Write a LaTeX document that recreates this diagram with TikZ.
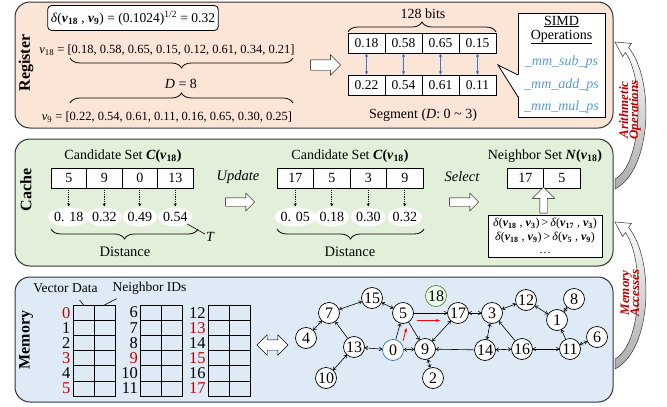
\documentclass[tikz,border=0pt]{standalone}
\usepackage{fontspec}
\setmainfont{Liberation Serif}
\usetikzlibrary{shapes.arrows,shapes.geometric,decorations.pathreplacing,arrows.meta}

\definecolor{regfill}{HTML}{FBE5D6}
\definecolor{cachefill}{HTML}{E2F0D9}
\definecolor{memfill}{HTML}{DEEBF7}
\definecolor{darkred}{HTML}{C00000}
\definecolor{simdblue}{HTML}{5B9BD5}
\definecolor{pairblue}{HTML}{4472C4}
\definecolor{startblue}{HTML}{2E75B6}
\definecolor{querygreen}{HTML}{548235}

\newcommand{\sz}[1]{\fontsize{#1}{#1}\selectfont}
\newcommand{\bv}[1]{\textbf{\textit{v}}\textsubscript{\textbf{#1}}}

\begin{document}
\begin{tikzpicture}[x=1pt,y=-1pt,
    panel/.style={draw=black!80, line width=1pt, rounded corners=15pt},
    tag/.style={rotate=90, font=\sz{16}\bfseries},
    rcell/.style={draw, fill=white, minimum width=37pt, minimum height=20pt, inner sep=0pt, font=\sz{13.5}},
    ccell/.style={draw, fill=white, minimum width=35.5pt, minimum height=20pt, inner sep=0pt, font=\sz{14}},
    dist/.style={ellipse, fill=white, minimum width=34pt, minimum height=19pt, inner sep=0pt, font=\sz{14}},
    hollow/.style={single arrow, draw, fill=white, inner sep=5pt, single arrow head extend=5pt, minimum height=30pt},
    curly/.style={decorate, decoration={brace, amplitude=10pt}, line width=0.8pt},
    dots/.style={densely dotted, line width=0.8pt, -{Stealth[length=3pt,width=3pt]}, shorten <=2pt, shorten >=1pt},
    pair/.style={{Stealth[length=4pt,width=3.5pt]}-{Stealth[length=4pt,width=3.5pt]}, pairblue, line width=0.9pt},
    op/.style={font=\sz{14}\itshape, text=simdblue},
    memid/.style={anchor=east, inner sep=0.5pt, font=\sz{16.5}},
    vert/.style={circle, draw, fill=white, minimum size=21pt, inner sep=0pt, line width=0.7pt, font=\sz{16}},
    link/.style={-{To[length=3pt,width=4pt]}, line width=0.6pt},
    blink/.style={{To[length=3pt,width=4pt]}-{To[length=3pt,width=4pt]}, line width=0.6pt},
    walk/.style={-{Stealth[length=4pt,width=3pt]}, red, line width=0.8pt},
    bendband/.style={top color=white, bottom color=gray!65, draw=black!80, line width=0.5pt},
    flow/.style={rotate=90, align=center, text=darkred, font=\sz{13}\bfseries\itshape}]
    \useasboundingbox (0,0) rectangle (667,407);

    % three levels
    \draw[panel, fill=regfill] (15,2) rectangle (613,128);
    \draw[panel, fill=cachefill] (15,139) rectangle (613,266);
    \draw[panel, fill=memfill] (15,277) rectangle (613,402);
    \node[tag] (lreg) at (26,63) {Register};
    \node[tag] (lcache) at (26,190) {Cache};
    \node[tag] (lmem) at (26,340) {Memory};

    % register: distance of two vectors
    \node[draw, fill=white, rounded corners=4pt, line width=0.8pt, minimum width=163pt, minimum height=25pt, font=\sz{13.5}] (delta) at (133,18) {\textit{δ}(\bv{18} , \bv{9}) = (0.1024)\textsuperscript{1/2} = 0.32};
    \node[font=\sz{12.5}] (v18) at (167,50) {\textit{v}\textsubscript{18} = [0.18, 0.58, 0.65, 0.15, 0.12, 0.61, 0.34, 0.21]};
    \draw[curly] (293,58) -- (70,58);
    \node[font=\sz{14}] (dim) at (181,84) {\textit{D} = 8};
    \draw[curly] (70,103) -- (293,103);
    \node[font=\sz{12.5}] (v9) at (167,117) {\textit{v}\textsubscript{9} = [0.22, 0.54, 0.61, 0.11, 0.16, 0.65, 0.30, 0.25]};
    \node[hollow] (toseg) at (323,65) {};

    \node[font=\sz{14}] (bits) at (423,14) {128 bits};
    \draw[curly] (348,32) -- (496,32);
    \node[rcell] (a1) at (366.5,43) {0.18};
    \node[rcell] (a2) at (403.5,43) {0.58};
    \node[rcell] (a3) at (440.5,43) {0.65};
    \node[rcell] (a4) at (477.5,43) {0.15};
    \node[rcell] (b1) at (366.5,85) {0.22};
    \node[rcell] (b2) at (403.5,85) {0.54};
    \node[rcell] (b3) at (440.5,85) {0.61};
    \node[rcell] (b4) at (477.5,85) {0.11};
    \draw[pair] (a1) -- (b1);
    \draw[pair] (a2) -- (b2);
    \draw[pair] (a3) -- (b3);
    \draw[pair] (a4) -- (b4);
    \node[font=\sz{14}] (seg) at (423,115) {Segment (\textit{D}: 0 \textasciitilde{} 3)};

    \node[draw, fill=white, line width=0.8pt, minimum width=87pt, minimum height=104pt] (simd) at (561.5,65) {};
    \fill[white] (498,65) -- (519,75) -- (519,97) -- cycle;
    \draw[line width=0.8pt] (518,75) -- (498,65) -- (518,97);
    \node[align=center, font=\sz{14}] (simdhead) at (561.5,30) {\underline{SIMD}\\\underline{Operations}};
    \node[op] (sub) at (561.5,62) {\_mm\_sub\_ps};
    \node[op] (add) at (561.5,85) {\_mm\_add\_ps};
    \node[op] (mul) at (561.5,107) {\_mm\_mul\_ps};

    % cache: candidate sets
    \node[font=\sz{14}] (cand1) at (123,156) {Candidate Set \textbf{\textit{C}(}\bv{18}\textbf{)}};
    \node[ccell] (c1) at (68.75,178) {5};
    \node[ccell] (c2) at (104.25,178) {9};
    \node[ccell] (c3) at (139.75,178) {0};
    \node[ccell] (c4) at (175.25,178) {13};
    \node[dist] (e1) at (68.75,217) {0. 18};
    \node[dist] (e2) at (104.25,217) {0.32};
    \node[dist] (e3) at (139.75,217) {0.49};
    \node[dist] (e4) at (175.25,217) {0.54};
    \draw[dots] (c1) -- (e1);
    \draw[dots] (c2) -- (e2);
    \draw[dots] (c3) -- (e3);
    \draw[dots] (c4) -- (e4);
    \draw[curly] (198,229) -- (51,229);
    \node[font=\sz{14.5}] (dist1) at (125,252) {Distance};
    \node[font=\sz{14}\itshape, inner sep=1pt] (thr) at (210,237) {T};
    \draw[line width=0.6pt] (e4) -- (thr);

    \node[font=\sz{14.5}\itshape] (upd) at (238,177) {Update};
    \node[hollow, inner sep=4pt, single arrow head extend=4.5pt, minimum height=29pt] (updarr) at (238,202) {};

    \node[font=\sz{14}] (cand2) at (350,156) {Candidate Set \textbf{\textit{C}(}\bv{18}\textbf{)}};
    \node[ccell, minimum width=36.5pt] (d1) at (295.25,178) {17};
    \node[ccell, minimum width=36.5pt] (d2) at (331.75,178) {5};
    \node[ccell, minimum width=36.5pt] (d3) at (368.25,178) {3};
    \node[ccell, minimum width=36.5pt] (d4) at (404.75,178) {9};
    \node[dist] (f1) at (295.25,217) {0. 05};
    \node[dist] (f2) at (331.75,217) {0.18};
    \node[dist] (f3) at (368.25,217) {0.30};
    \node[dist] (f4) at (404.75,217) {0.32};
    \draw[dots] (d1) -- (f1);
    \draw[dots] (d2) -- (f2);
    \draw[dots] (d3) -- (f3);
    \draw[dots] (d4) -- (f4);
    \draw[curly] (424,229) -- (277,229);
    \node[font=\sz{14.5}] (dist2) at (350,252) {Distance};

    \node[font=\sz{14.5}\itshape] (sel) at (462,177) {Select};
    \node[hollow, inner sep=4pt, single arrow head extend=4.5pt, minimum height=29pt] (selarr) at (462,202) {};

    \node[font=\sz{14}] (nbr) at (545,156) {Neighbor Set \textbf{\textit{N}(}\bv{18}\textbf{)}};
    \node[ccell, minimum width=36.5pt] (g1) at (525.25,178) {17};
    \node[ccell, minimum width=36.5pt] (g2) at (561.75,178) {5};
    \node[draw, fill=white, line width=0.8pt, minimum width=114pt, minimum height=42pt, inner sep=1pt, align=center, font=\fontsize{12}{14}\selectfont] (rule) at (545,236) {\textit{δ}(\bv{18} , \bv{3})\,>\,\textit{δ}(\bv{17} , \bv{3})\\\textit{δ}(\bv{18} , \bv{9})\,>\,\textit{δ}(\bv{5} , \bv{9})\\[-1pt]\dots};
    \node[hollow, shape border rotate=90, inner sep=3.5pt, single arrow head extend=7.5pt, minimum height=26pt] (keep) at (543.5,202) {};

    % memory: adjacency layout
    \node[font=\sz{13.5}] (vd) at (65.5,288) {Vector Data};
    \node[font=\sz{13.5}] (nid) at (149.5,288) {Neighbor IDs};
    \foreach \tx in {73,140.3,208.3} {
        \draw[line width=0.7pt] (\tx,305) rectangle +(42,91);
        \draw[line width=0.7pt] (\tx+21,305) -- +(0,91);
        \foreach \r in {1,...,5}
            \draw[line width=0.7pt] (\tx,305+15.17*\r) -- +(42,0);
    }
    \coordinate (vcol) at (84,305.5);
    \coordinate (ncol) at (103.5,305.5);
    \draw[line width=0.6pt] ([xshift=14pt,yshift=-4pt]vd.south) -- (vcol);
    \draw[line width=0.6pt] ([xshift=-33pt,yshift=-1pt]nid.south) -- (ncol);
    \foreach \n/\c [count=\r from 0] in {0/darkred,1/black,2/black,3/darkred,4/black,5/darkred}
        \node[memid, text=\c] (id\n) at (71,312.6+15.17*\r) {\n};
    \foreach \n/\c [count=\r from 0] in {6/black,7/black,8/black,9/darkred,10/black,11/black}
        \node[memid, text=\c] (id\n) at (138.5,312.6+15.17*\r) {\n};
    \foreach \n/\c [count=\r from 0] in {12/black,13/darkred,14/black,15/darkred,16/black,17/darkred}
        \node[memid, text=\c] (id\n) at (206.3,312.6+15.17*\r) {\n};
    \node[double arrow, draw, fill=white, inner sep=5pt, double arrow head extend=5pt, minimum height=31pt] (swap) at (272.5,345) {};

    % graph
    \node[vert] (n15) at (372,298) {15};
    \node[vert] (n7) at (329,313) {7};
    \node[vert] (n5) at (403,313) {5};
    \node[vert, draw=querygreen, fill=green!8] (n18) at (436,296) {18};
    \node[vert] (n17) at (458,313) {17};
    \node[vert] (n3) at (492,313) {3};
    \node[vert] (n12) at (526,300) {12};
    \node[vert] (n8) at (574,299) {8};
    \node[vert] (n1) at (557,320) {1};
    \node[vert] (n6) at (597,337) {6};
    \node[vert] (n4) at (306,338) {4};
    \node[vert] (n13) at (354,347) {13};
    \node[vert, draw=startblue] (n0) at (393,350) {0};
    \node[vert] (n9) at (425,349) {9};
    \node[vert] (n14) at (485,350) {14};
    \node[vert] (n16) at (522,349) {16};
    \node[vert] (n11) at (570,349) {11};
    \node[vert] (n10) at (326,378) {10};
    \node[vert] (n2) at (433,378) {2};

    \draw[blink] (n7) -- (n15);
    \draw[blink] (n15) -- (n5);
    \draw[blink] (n7) -- (n4);
    \draw[link] (n13) -- (n7);
    \draw[blink] (n13) -- (n0);
    \draw[blink] (n13) -- (n10);
    \draw[link] (n0) -- (n5);
    \draw[blink] (n0) -- (n9);
    \draw[link] (n5) -- (n9);
    \draw[link] (n5) -- (n17);
    \draw[blink] (n9) -- (n17);
    \draw[blink] (n9) -- (n2);
    \draw[link] (n14) -- (n9);
    \draw[blink] (n17) -- (n3);
    \draw[blink] (n3) -- (n12);
    \draw[blink] (n3) -- (n14);
    \draw[link] (n16) -- (n3);
    \draw[blink] (n16) -- (n14);
    \draw[blink] (n16) -- (n11);
    \draw[blink] (n12) -- (n1);
    \draw[blink] (n1) -- (n8);
    \draw[link] (n11) -- (n1);
    \draw[blink] (n11) -- (n6);

    \coordinate (p0) at (403,341);
    \coordinate (p5) at (406.5,328);
    \coordinate (q5) at (417,320.5);
    \coordinate (q17) at (440,320.5);
    \draw[walk] (p0) -- (p5);
    \draw[walk] (q5) -- (q17);

    % curved arrows between levels
    \shadedraw[bendband] (615,189) .. controls (652,170) and (655,80) .. (628.6,47.5) -- (631.4,43.4) -- (615,42) -- (622.6,56.6) -- (625.4,52.5) .. controls (645,80) and (642,165) .. (615,179) -- cycle;
    \shadedraw[bendband, shift={(0,180)}] (615,189) .. controls (652,170) and (655,80) .. (628.6,47.5) -- (631.4,43.4) -- (615,42) -- (622.6,56.6) -- (625.4,52.5) .. controls (645,80) and (642,165) .. (615,179) -- cycle;
    \node[flow] (arith) at (630,110) {Arithmetic\\[-3pt]Operations};
    \node[flow] (access) at (630,293) {Memory\\[-3pt]Accesses};
\end{tikzpicture}
\end{document}
